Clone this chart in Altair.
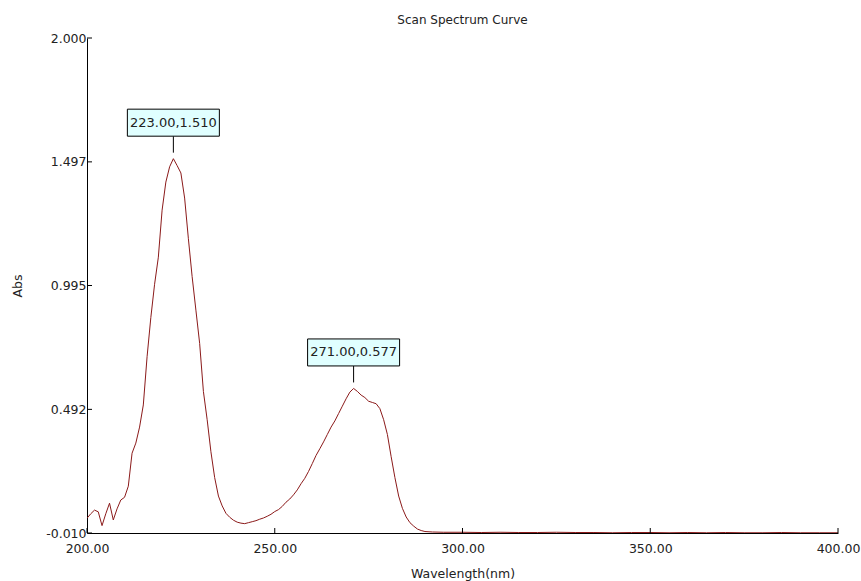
import altair as alt
import pandas as pd

# ---- data ----
wavelength = [200, 201, 202, 203, 204, 205, 206, 207, 208, 209, 210, 211, 212, 213, 214, 215,
              216, 217, 218, 219, 220, 221, 222, 223, 224, 225, 226, 227, 228, 229, 230, 231,
              232, 233, 234, 235, 236, 237, 238, 239, 240, 241, 242, 243, 244, 245, 246, 247,
              248, 249, 250, 251, 252, 253, 254, 255, 256, 257, 258, 259, 260, 261, 262, 263,
              264, 265, 266, 267, 268, 269, 270, 271, 272, 273, 274, 275, 276, 277, 278, 279,
              280, 281, 282, 283, 284, 285, 286, 287, 288, 289, 290, 292, 295, 300, 305, 310,
              315, 320, 325, 330, 335, 340, 345, 350, 355, 360, 365, 370, 375, 380, 385, 390,
              395, 400]
absorbance = [0.050, 0.068, 0.083, 0.076, 0.020, 0.068, 0.111, 0.043, 0.088, 0.124, 0.135, 0.180,
              0.314, 0.355, 0.420, 0.510, 0.706, 0.865, 1.000, 1.110, 1.301, 1.415, 1.477, 1.510,
              1.482, 1.452, 1.350, 1.185, 1.031, 0.895, 0.760, 0.565, 0.450, 0.320, 0.215, 0.140,
              0.100, 0.070, 0.054, 0.042, 0.034, 0.030, 0.028, 0.032, 0.036, 0.040, 0.046, 0.051,
              0.058, 0.066, 0.077, 0.085, 0.098, 0.115, 0.128, 0.145, 0.165, 0.190, 0.212, 0.240,
              0.272, 0.305, 0.332, 0.360, 0.390, 0.420, 0.445, 0.475, 0.505, 0.535, 0.562, 0.577,
              0.565, 0.550, 0.540, 0.525, 0.520, 0.515, 0.495, 0.450, 0.390, 0.300, 0.215, 0.140,
              0.090, 0.055, 0.032, 0.018, 0.006, 0.000, -0.004, -0.006, -0.007, -0.007, -0.008,
              -0.007, -0.008, -0.008, -0.007, -0.008, -0.008, -0.009, -0.008, -0.008, -0.009,
              -0.008, -0.009, -0.008, -0.009, -0.009, -0.008, -0.009, -0.009, -0.009]

peak_wl = [223.00, 271.00]
peak_abs = [1.510, 0.577]

x_ticks = [200, 250, 300, 350, 400]
y_ticks = [-0.010, 0.492, 0.995, 1.497, 2.000]

FONT = "DejaVu Sans"
CURVE = "#8b1a1a"
TXT = "#222222"

df = pd.DataFrame({"wl": wavelength, "abs": absorbance})
peaks = pd.DataFrame({"wl": peak_wl, "abs": peak_abs})
peaks["label"] = [f"{w:.2f},{a:.3f}" for w, a in zip(peak_wl, peak_abs)]
xt = pd.DataFrame({"wl": x_ticks})
yt = pd.DataFrame({"abs": y_ticks})

xscale = alt.Scale(domain=[200, 400], nice=False, zero=False)
yscale = alt.Scale(domain=[-0.010, 2.000], nice=False, zero=False)

xaxis = alt.Axis(values=x_ticks, format=".2f", grid=False, ticks=False, tickSize=0,
                 labelFlush=False, labelOverlap=False,
                 labelPadding=9, labelFontSize=12.5, labelFont=FONT, labelColor=TXT,
                 domainColor="black", domainWidth=1,
                 title="Wavelength(nm)", titleFont=FONT, titleFontSize=12.5,
                 titleFontWeight="normal", titleColor=TXT, titleY=44,
                 titleBaseline="alphabetic")
yaxis = alt.Axis(values=y_ticks, grid=False, ticks=False, tickSize=0,
                 labelExpr="replace(format(datum.value, '.3f'), '\u2212', '-')",
                 labelFlush=False, labelOverlap=False,
                 labelPadding=1, labelFontSize=12.5, labelFont=FONT, labelColor=TXT,
                 domainColor="black", domainWidth=1,
                 title="Abs", titleFont=FONT, titleFontSize=12.5,
                 titleFontWeight="normal", titleColor=TXT, titleAngle=-90,
                 titleX=-66, titleY=247.5, titleAlign="center", titleBaseline="alphabetic")

line = alt.Chart(df).mark_line(color=CURVE, strokeWidth=1, clip=True).encode(
    x=alt.X("wl:Q", scale=xscale, axis=xaxis),
    y=alt.Y("abs:Q", scale=yscale, axis=yaxis),
)

ytick_marks = alt.Chart(yt).mark_rule(color="black", strokeWidth=1).encode(
    y=alt.Y("abs:Q", scale=yscale),
    x=alt.value(0), x2=alt.value(5),
)
xtick_marks = alt.Chart(xt).mark_rule(color="black", strokeWidth=1).encode(
    x=alt.X("wl:Q", scale=xscale),
    y=alt.value(495), y2=alt.value(490),
)

leader = alt.Chart(peaks).mark_rule(color="black", strokeWidth=1, yOffset=-6, y2Offset=-22.5).encode(
    x=alt.X("wl:Q", scale=xscale),
    y=alt.Y("abs:Q", scale=yscale),
    y2="abs:Q",
)

BOX = "M-1,-0.2935L1,-0.2935L1,0.2935L-1,0.2935Z"
box = alt.Chart(peaks).mark_point(shape=BOX, size=92 * 92, filled=True, fill="#e0ffff",
                                  stroke="black", strokeWidth=1, opacity=1, yOffset=-36).encode(
    x=alt.X("wl:Q", scale=xscale),
    y=alt.Y("abs:Q", scale=yscale),
)
labels = alt.Chart(peaks).mark_text(font=FONT, fontSize=13, color=TXT, align="center",
                                    baseline="middle", yOffset=-36).encode(
    x=alt.X("wl:Q", scale=xscale),
    y=alt.Y("abs:Q", scale=yscale),
    text="label:N",
)

chart = alt.layer(line, ytick_marks, xtick_marks, leader, box, labels).properties(
    width=751,
    height=495,
    background="white",
    title=alt.Title("Scan Spectrum Curve", font=FONT, fontSize=12, fontWeight="normal",
                    color=TXT, anchor="middle", offset=0, dy=4, baseline="alphabetic"),
    autosize=alt.AutoSizeParams(type="none"),
    padding={"left": 87, "top": 38, "right": 23, "bottom": 48},
).configure_view(stroke=None)

chart.save("out.html", embed_options={"renderer": "svg", "actions": False})
